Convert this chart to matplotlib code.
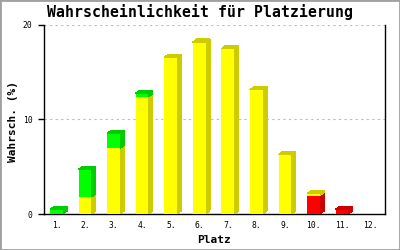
import matplotlib
matplotlib.use('Agg')
import matplotlib.pyplot as plt
from matplotlib.patches import Polygon, Rectangle

# Platzierungen und Wahrscheinlichkeiten (in %), gestapelt: rot, gelb, gruen
plaetze = ['1.', '2.', '3.', '4.', '5.', '6.', '7.', '8.', '9.', '10.', '11.', '12.']
rot = [0, 0, 0, 0, 0, 0, 0, 0, 0, 1.95, 0.5, 0]
gelb = [0, 1.8, 6.95, 12.4, 16.6, 18.2, 17.5, 13.15, 6.3, 0.2, 0, 0]
gruen = [0.5, 2.95, 1.6, 0.4, 0, 0, 0, 0, 0, 0, 0, 0]
y_ticks = [0, 10, 20]

serien = [
    (rot, '#ff0000', '#cc0000'),
    (gelb, '#ffff00', '#cccc00'),
    (gruen, '#00ff00', '#00cc00'),
]

mono = 'DejaVu Sans Mono'
fig = plt.figure(figsize=(4, 2.5), dpi=100)
fig.patches.append(Rectangle((0, 0), 1, 1, transform=fig.transFigure,
                             fill=False, edgecolor='#a0a0a0', linewidth=2))
ax = fig.add_axes([0.11, 0.144, 0.8525, 0.756])

breite = 0.46
dx, dy = 0.14, 0.32   # Tiefe des 3D-Effekts in Dateneinheiten
x = list(range(1, len(plaetze) + 1))
boden = [0] * len(x)

for werte, farbe, dunkel in serien:
    ax.bar(x, werte, breite, bottom=boden, color=farbe, linewidth=0,
           antialiased=False, zorder=3)
    for xi, b, v in zip(x, boden, werte):
        if v <= 0:
            continue
        xr = xi + breite / 2
        ax.add_patch(Polygon([(xr, b), (xr + dx, b + dy), (xr + dx, b + v + dy), (xr, b + v)],
                             closed=True, facecolor=dunkel, linewidth=0,
                             antialiased=False, zorder=3))
    boden = [b + v for b, v in zip(boden, werte)]

# Deckflaechen: Farbe des obersten Segments
for i, xi in enumerate(x):
    top = boden[i]
    if top <= 0:
        continue
    dunkel = None
    for werte, farbe, d in serien:
        if werte[i] > 0:
            dunkel = d
    xl = xi - breite / 2
    xr = xi + breite / 2
    ax.add_patch(Polygon([(xl, top), (xl + dx, top + dy), (xr + dx, top + dy), (xr, top)],
                         closed=True, facecolor=dunkel, linewidth=0,
                         antialiased=False, zorder=3))

ax.set_xlim(0.555, 12.5)
ax.set_ylim(0, 20)
ax.set_xticks(x)
ax.set_xticklabels(plaetze, family=mono, fontsize=5.8)
ax.set_yticks(y_ticks)
ax.set_yticklabels([str(t) for t in y_ticks], family=mono, fontsize=5.8)
ax.tick_params(axis='x', length=0, pad=5)
ax.tick_params(axis='y', length=4.3, width=1, pad=4)
ax.spines['top'].set_visible(False)
for s in ['left', 'right', 'bottom']:
    ax.spines[s].set_linewidth(1)
ax.yaxis.grid(True, color='#bbbbbb', linestyle=(0, (2, 3)), linewidth=0.8, zorder=0)
ax.set_axisbelow(True)

fig.text(0.5, 1 - 12 / 250, 'Wahrscheinlichkeit für Platzierung', family=mono,
         fontweight='bold', fontsize=10.7, ha='center', va='center')
fig.text(12.5 / 400, 1 - 121 / 250, 'Wahrsch. (%)', family=mono, fontweight='bold',
         fontsize=8, rotation=90, ha='center', va='center')
fig.text(214 / 400, 1 - 240 / 250, 'Platz', family=mono, fontweight='bold',
         fontsize=8, ha='center', va='center')

fig.savefig('out.png', dpi=100)
